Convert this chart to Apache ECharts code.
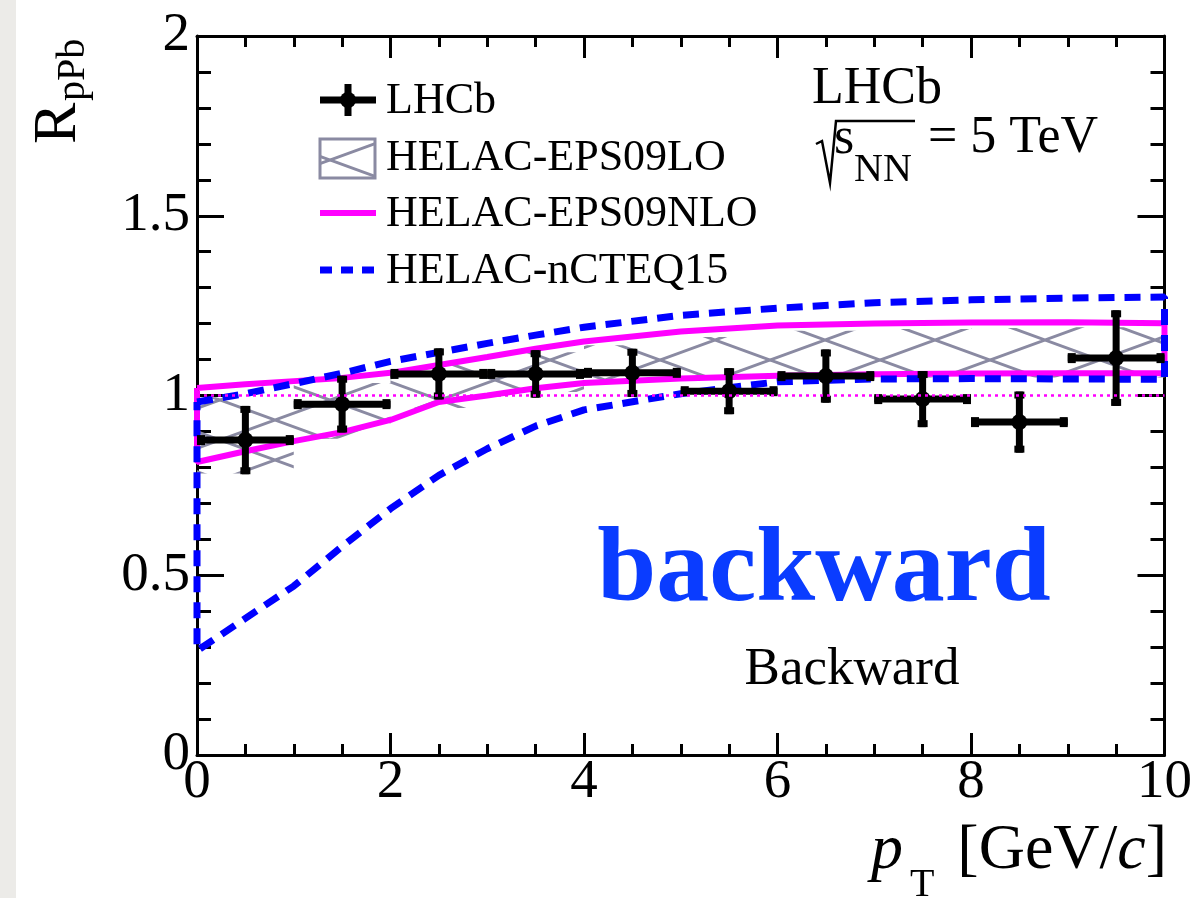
<!DOCTYPE html>
<html>
<head>
<meta charset="utf-8">
<title>RpPb backward</title>
<script src="https://cdn.jsdelivr.net/npm/echarts@6/dist/echarts.min.js"></script>
<style>
  html, body { margin: 0; padding: 0; background: #fff; }
  #chart { width: 1195px; height: 898px; }
</style>
</head>
<body>
<div id="chart"></div>
<script>
// LHCb data points (bin centre, half width, value, error)
var ptCenter = [0.5, 1.5, 2.5, 3.5, 4.5, 5.5, 6.5, 7.5, 8.5, 9.5];
var ptHalfWidth = [0.5, 0.5, 0.5, 0.5, 0.5, 0.5, 0.5, 0.5, 0.5, 0.5];
var rpPb = [0.876, 0.976, 1.060, 1.060, 1.063, 1.012, 1.054, 0.990, 0.926, 1.104];
var rpPbErr = [0.095, 0.079, 0.071, 0.066, 0.067, 0.064, 0.074, 0.078, 0.085, 0.133];

// HELAC-EPS09LO band, one step per bin
var loBinEdges = [0, 1, 2, 3, 4, 5, 6, 7, 8, 9, 10];
var loLow = [0.783, 0.880, 0.965, 1.010, 1.035, 1.045, 1.048, 1.050, 1.050, 1.050];
var loHigh = [0.995, 1.035, 1.085, 1.120, 1.140, 1.163, 1.180, 1.185, 1.188, 1.190];

// theory curves
var thPt = [0, 0.5, 1, 1.5, 2, 2.5, 3, 3.5, 4, 5, 6, 7, 8, 9, 10];
var nloHigh = [1.021, 1.031, 1.040, 1.049, 1.063, 1.085, 1.107, 1.130, 1.150, 1.178, 1.195, 1.200, 1.203, 1.204, 1.201];
var nloLow = [0.815, 0.845, 0.873, 0.898, 0.932, 0.982, 1.000, 1.020, 1.035, 1.047, 1.055, 1.059, 1.061, 1.062, 1.062];
var ncteqHigh = [0.982, 1.005, 1.033, 1.062, 1.095, 1.120, 1.145, 1.168, 1.190, 1.223, 1.243, 1.258, 1.266, 1.271, 1.274];
var ncteqLow = [0.290, 0.380, 0.470, 0.580, 0.685, 0.778, 0.852, 0.915, 0.960, 1.005, 1.038, 1.046, 1.047, 1.046, 1.045];

// reference line
var unityLine = [[0, 1], [10, 1]];

var serif = "'Liberation Serif', 'Times New Roman', serif";

// hatch pattern for the LO band
function makeHatch() {
    var w = 110, h = 40;
    var cv = document.createElement('canvas');
    cv.width = w; cv.height = h;
    var ctx = cv.getContext('2d');
    ctx.strokeStyle = '#8a8aa2';
    ctx.lineWidth = 3;
    for (var k = -1; k <= 1; k++) {
        ctx.beginPath();
        ctx.moveTo(k * w - w, -h); ctx.lineTo(k * w + 2 * w, 2 * h);
        ctx.moveTo(k * w - w, 2 * h); ctx.lineTo(k * w + 2 * w, -h);
        ctx.stroke();
    }
    return { image: cv, repeat: 'repeat' };
}
var hatch = makeHatch();

// closed outline: upper edge forward, lower edge back
function outline(xs, hi, lo) {
    var pts = [];
    for (var i = 0; i < xs.length; i++) pts.push([xs[i], hi[i]]);
    for (var j = xs.length - 1; j >= 0; j--) pts.push([xs[j], lo[j]]);
    pts.push([xs[0], hi[0]]);
    return pts;
}

var pointData = [];
for (var i = 0; i < ptCenter.length; i++) {
    pointData.push([ptCenter[i], rpPb[i], ptHalfWidth[i], rpPbErr[i]]);
}

function xAxisCfg(pos, labels) {
    return {
        type: 'value', position: pos, min: 0, max: 10, interval: 2,
        axisLine: { show: true, onZero: false, lineStyle: { color: '#000', width: 3 } },
        axisTick: { show: true, inside: true, length: 22, lineStyle: { color: '#000', width: 3 } },
        minorTick: { show: true, splitNumber: 4, length: 11, lineStyle: { color: '#000', width: 3 } },
        splitLine: { show: false },
        axisLabel: { show: labels, margin: 0, color: '#000', fontSize: 55, fontFamily: serif }
    };
}
function yAxisCfg(pos, labels) {
    return {
        type: 'value', position: pos, min: 0, max: 2, interval: 0.5,
        axisLine: { show: true, onZero: false, lineStyle: { color: '#000', width: 3 } },
        axisTick: { show: true, inside: true, length: 27, lineStyle: { color: '#000', width: 3 } },
        minorTick: { show: true, splitNumber: 5, length: 14, lineStyle: { color: '#000', width: 3 } },
        splitLine: { show: false },
        axisLabel: { show: labels, margin: 7, color: '#000', fontSize: 55, fontFamily: serif }
    };
}

var chart = echarts.init(document.getElementById('chart'), null, { renderer: 'canvas' });

var option = {
    backgroundColor: '#fff',
    animation: false,
    grid: { left: 197, top: 36, right: 28, bottom: 143 },
    xAxis: [xAxisCfg('bottom', true), xAxisCfg('top', false)],
    yAxis: [yAxisCfg('left', true), yAxisCfg('right', false)],
    series: [
        {
            name: 'HELAC-EPS09LO', type: 'custom', z: 1, clip: true,
            data: [0],
            renderItem: function (params, api) {
                var pts = [];
                for (var i = 0; i < loLow.length; i++) {
                    pts.push(api.coord([loBinEdges[i], loHigh[i]]));
                    pts.push(api.coord([loBinEdges[i + 1], loHigh[i]]));
                }
                for (var j = loLow.length - 1; j >= 0; j--) {
                    pts.push(api.coord([loBinEdges[j + 1], loLow[j]]));
                    pts.push(api.coord([loBinEdges[j], loLow[j]]));
                }
                return { type: 'polygon', shape: { points: pts }, style: { fill: hatch, stroke: null } };
            }
        },
        {
            name: 'HELAC-EPS09NLO', type: 'line', z: 3, clip: false,
            data: outline(thPt, nloHigh, nloLow),
            symbol: 'none',
            lineStyle: { color: '#ff00ff', width: 6 }
        },
        {
            name: 'HELAC-nCTEQ15', type: 'line', z: 4, clip: false,
            data: outline(thPt, ncteqHigh, ncteqLow),
            symbol: 'none',
            lineStyle: { color: '#0000ff', width: 7, type: [16, 10] }
        },
        {
            name: 'LHCb', type: 'custom', z: 5, clip: false,
            data: pointData,
            encode: { x: 0, y: 1 },
            renderItem: function (params, api) {
                var x = api.value(0), y = api.value(1), ex = api.value(2), ey = api.value(3);
                var c = api.coord([x, y]);
                var l = api.coord([x - ex, y]), r = api.coord([x + ex, y]);
                var t = api.coord([x, y + ey]), b = api.coord([x, y - ey]);
                return {
                    type: 'group',
                    children: [
                        { type: 'line', shape: { x1: l[0], y1: l[1], x2: r[0], y2: r[1] }, style: { stroke: '#000', lineWidth: 7 } },
                        { type: 'line', shape: { x1: t[0], y1: t[1], x2: b[0], y2: b[1] }, style: { stroke: '#000', lineWidth: 7 } },
                        { type: 'rect', shape: { x: l[0], y: l[1] - 5, width: 8, height: 10 }, style: { fill: '#000' } },
                        { type: 'rect', shape: { x: r[0] - 8, y: r[1] - 5, width: 8, height: 10 }, style: { fill: '#000' } },
                        { type: 'rect', shape: { x: t[0] - 5, y: t[1], width: 10, height: 7 }, style: { fill: '#000' } },
                        { type: 'rect', shape: { x: b[0] - 5, y: b[1] - 7, width: 10, height: 7 }, style: { fill: '#000' } },
                        { type: 'circle', shape: { cx: c[0], cy: c[1], r: 8 }, style: { fill: '#000' } }
                    ]
                };
            }
        },
        {
            name: 'unity', type: 'line', z: 6, clip: true,
            data: unityLine,
            symbol: 'none',
            lineStyle: { color: '#ff00ff', width: 2.5, type: [3, 4] }
        }
    ],
    graphic: [
        // light strip at the left edge
        { type: 'rect', left: 0, top: 0, shape: { width: 16, height: 898 }, style: { fill: '#ecebe8' }, z: -1 },

        // legend
        { type: 'line', shape: { x1: 320, y1: 100, x2: 376, y2: 100 }, style: { stroke: '#000', lineWidth: 7 } },
        { type: 'line', shape: { x1: 348, y1: 84, x2: 348, y2: 116 }, style: { stroke: '#000', lineWidth: 7 } },
        { type: 'circle', shape: { cx: 348, cy: 100, r: 8 }, style: { fill: '#000' } },
        { type: 'text', x: 386, y: 101, style: { text: 'LHCb', font: '44px ' + serif, fill: '#000', verticalAlign: 'middle' } },

        { type: 'rect', shape: { x: 320, y: 139, width: 55, height: 39 }, style: { fill: hatch, stroke: '#8a8aa2', lineWidth: 3 } },
        { type: 'text', x: 386, y: 158, style: { text: 'HELAC-EPS09LO', font: '44px ' + serif, fill: '#000', verticalAlign: 'middle' } },

        { type: 'line', shape: { x1: 320, y1: 213, x2: 376, y2: 213 }, style: { stroke: '#ff00ff', lineWidth: 6 } },
        { type: 'text', x: 386, y: 214, style: { text: 'HELAC-EPS09NLO', font: '44px ' + serif, fill: '#000', verticalAlign: 'middle' } },

        { type: 'line', shape: { x1: 320, y1: 270, x2: 376, y2: 270 }, style: { stroke: '#0000ff', lineWidth: 7, lineDash: [12, 9] } },
        { type: 'text', x: 386, y: 271, style: { text: 'HELAC-nCTEQ15', font: '44px ' + serif, fill: '#000', verticalAlign: 'middle' } },

        // experiment label
        { type: 'text', x: 812, y: 89, style: { text: 'LHCb', font: '52px ' + serif, fill: '#000', verticalAlign: 'middle' } },
        { type: 'polyline', shape: { points: [[816, 144], [822, 141], [830, 183], [836, 121], [915, 121]] }, style: { stroke: '#000', lineWidth: 2.5, fill: null } },
        { type: 'text', x: 834, y: 139, style: { text: 's', font: '52px ' + serif, fill: '#000', verticalAlign: 'middle' } },
        { type: 'text', x: 854, y: 170, style: { text: 'NN', font: '40px ' + serif, fill: '#000', verticalAlign: 'middle' } },
        { type: 'text', x: 928, y: 138, style: { text: '= 5 TeV', font: '52px ' + serif, fill: '#000', verticalAlign: 'middle' } },

        // region labels
        { type: 'text', x: 824, y: 573, style: { text: 'backward', font: 'bold 106px ' + serif, fill: '#0a3cff', align: 'center', verticalAlign: 'middle' } },
        { type: 'text', x: 852, y: 670, style: { text: 'Backward', font: '53px ' + serif, fill: '#000', align: 'center', verticalAlign: 'middle' } },

        // axis titles
        { type: 'text', x: 59, y: 144, rotation: Math.PI / 2, style: { text: 'R', font: '62px ' + serif, fill: '#000', verticalAlign: 'middle' } },
        { type: 'text', x: 73, y: 101, rotation: Math.PI / 2, style: { text: 'pPb', font: '40px ' + serif, fill: '#000', verticalAlign: 'middle' } },
        { type: 'text', x: 871, y: 851, style: { text: 'p', font: 'italic 64px ' + serif, fill: '#000', verticalAlign: 'middle' } },
        { type: 'text', x: 910, y: 885, style: { text: 'T', font: '40px ' + serif, fill: '#000', verticalAlign: 'middle' } },
        {
            type: 'text', x: 1167, y: 851,
            style: {
                text: '[GeV/{i|c}]', font: '64px ' + serif, fill: '#000', align: 'right', verticalAlign: 'middle',
                rich: { i: { fontStyle: 'italic', fontSize: 64, fontFamily: serif } }
            }
        }
    ]
};

chart.setOption(option);
</script>
</body>
</html>
